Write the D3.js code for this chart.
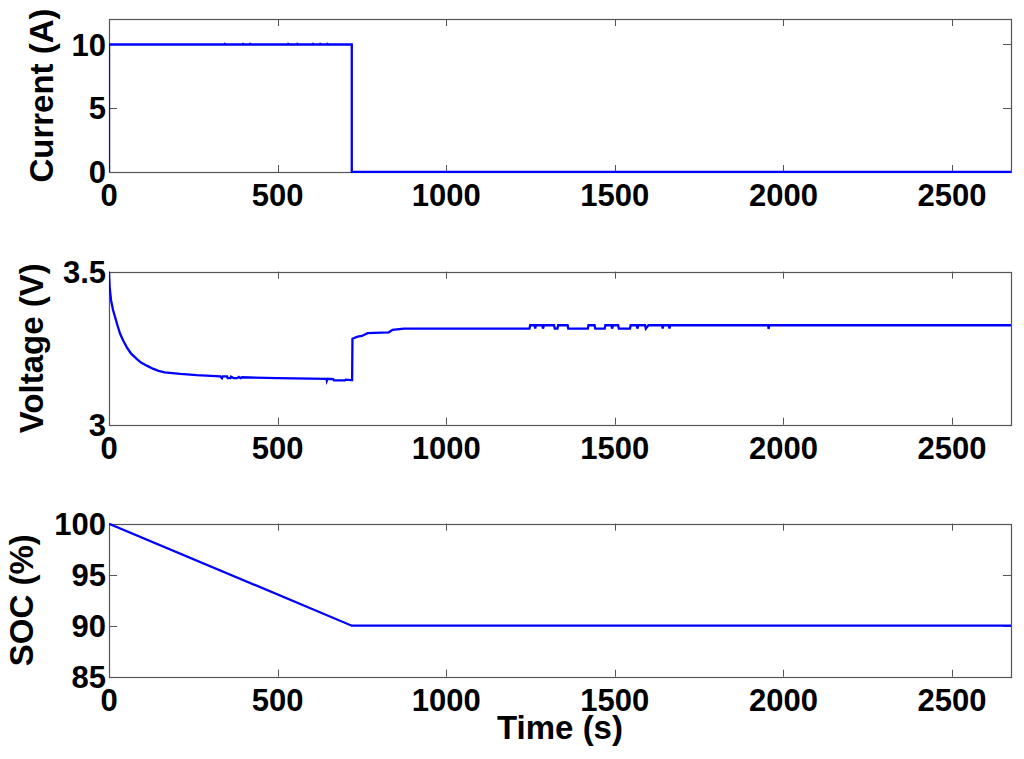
<!DOCTYPE html>
<html>
<head>
<meta charset="utf-8">
<script src="https://cdn.jsdelivr.net/npm/d3@7"></script>
<style>
  html, body { margin: 0; padding: 0; background: #fff; }
  svg text { font-family: "Liberation Sans", Arial, sans-serif; font-weight: bold; fill: #000; }
</style>
</head>
<body>
<script>
// time axis
var tMax = 2675;
var xTicks = [0, 500, 1000, 1500, 2000, 2500];

// current (A): [time, value]
var currentData = [
  [0, 0], [0, 10], [345, 10], [345, 10.03], [347, 10], [399, 10], [399, 10.03], [401, 10],
  [420, 10], [420, 10.03], [422, 10], [533, 10], [533, 10.03], [535, 10], [560, 10], [560, 10.03],
  [562, 10], [607, 10], [607, 10.03], [609, 10], [628, 10], [628, 10.03], [630, 10],
  [649, 10], [649, 10.03], [651, 10], [720, 10], [720, 0], [2675, 0]
];
var currentTicks = [0, 5, 10];

// voltage (V): [time, value]
var voltageData = [
  [0, 3.50], [2, 3.45], [6, 3.407], [12, 3.375], [18, 3.352], [25, 3.325], [33, 3.297],
  [42, 3.275], [53, 3.253], [65, 3.233], [82, 3.215], [95, 3.203], [112, 3.193],
  [130, 3.183], [147, 3.176], [165, 3.171], [211, 3.166], [260, 3.162], [330, 3.158],
  [335, 3.152], [337, 3.158], [350, 3.158], [352, 3.152], [360, 3.152], [362, 3.157],
  [370, 3.152], [380, 3.152], [385, 3.156], [390, 3.152], [395, 3.155], [500, 3.152],
  [645, 3.150], [646, 3.144], [648, 3.150], [665, 3.149], [667, 3.145], [700, 3.145],
  [702, 3.147], [718, 3.146], [721, 3.146], [722, 3.281], [737, 3.288], [750, 3.290],
  [767, 3.299], [830, 3.302], [841, 3.310], [875, 3.314], [1247, 3.314], [1249, 3.325],
  [1262, 3.325], [1264, 3.314], [1266, 3.325], [1285, 3.325], [1287, 3.314], [1290, 3.325],
  [1320, 3.325], [1322, 3.314], [1330, 3.314], [1332, 3.325], [1360, 3.325], [1362, 3.314],
  [1420, 3.314], [1422, 3.325], [1440, 3.325], [1442, 3.314], [1470, 3.314], [1472, 3.325],
  [1490, 3.325], [1492, 3.314], [1495, 3.325], [1510, 3.325], [1512, 3.314], [1545, 3.314],
  [1547, 3.325], [1565, 3.325], [1567, 3.314], [1570, 3.325], [1590, 3.325], [1592, 3.314],
  [1600, 3.325], [1640, 3.325], [1642, 3.314], [1644, 3.325], [1660, 3.325], [1662, 3.314],
  [1664, 3.325], [1955, 3.325], [1956, 3.313], [1958, 3.325], [2675, 3.325]
];
var voltageTicks = [3, 3.5];

// state of charge (%): [time, value]
var socData = [[0, 100], [720, 90], [2675, 90]];
var socTicks = [85, 90, 95, 100];

var panels = [
  { data: currentData, domain: [0, 12], ticks: currentTicks, label: "Current (A)", top: 19, labelX: 53 },
  { data: voltageData, domain: [3, 3.5], ticks: voltageTicks, label: "Voltage (V)", top: 271.7, labelX: 43 },
  { data: socData, domain: [85, 100], ticks: socTicks, label: "SOC (%)", top: 523.7, labelX: 33 }
];

var width = 1024, height = 759;
var left = 109, right = 1011, ph = 153;

var svg = d3.select("body").append("svg")
  .attr("width", width)
  .attr("height", height);

svg.append("rect").attr("width", width).attr("height", height).attr("fill", "#fff");

var x = d3.scaleLinear().domain([0, tMax]).range([left, right]);

panels.forEach(function(p, i) {
  var y = d3.scaleLinear().domain(p.domain).range([p.top + ph, p.top]);
  var g = svg.append("g");

  // clip for the trace
  svg.append("clipPath").attr("id", "clip" + i)
    .append("rect")
    .attr("x", left).attr("y", p.top - 1)
    .attr("width", right - left).attr("height", ph + 2);

  var line = d3.line()
    .x(function(d) { return x(d[0]); })
    .y(function(d) { return y(d[1]); });

  // ticks inside the box, on all four sides
  var tickLen = 7;
  g.selectAll(".xt").data(xTicks).enter().append("line")
    .attr("x1", function(d) { return Math.round(x(d)) + 0.5; })
    .attr("x2", function(d) { return Math.round(x(d)) + 0.5; })
    .attr("y1", p.top + ph).attr("y2", p.top + ph - tickLen)
    .attr("stroke", "#555");
  g.selectAll(".xtt").data(xTicks).enter().append("line")
    .attr("x1", function(d) { return Math.round(x(d)) + 0.5; })
    .attr("x2", function(d) { return Math.round(x(d)) + 0.5; })
    .attr("y1", p.top).attr("y2", p.top + tickLen)
    .attr("stroke", "#555");
  g.selectAll(".yt").data(p.ticks).enter().append("line")
    .attr("x1", left).attr("x2", left + 8)
    .attr("y1", function(d) { return Math.round(y(d)) + 0.5; })
    .attr("y2", function(d) { return Math.round(y(d)) + 0.5; })
    .attr("stroke", "#555");
  g.selectAll(".ytr").data(p.ticks).enter().append("line")
    .attr("x1", right).attr("x2", right - 8)
    .attr("y1", function(d) { return Math.round(y(d)) + 0.5; })
    .attr("y2", function(d) { return Math.round(y(d)) + 0.5; })
    .attr("stroke", "#555");

  // box
  g.append("rect")
    .attr("x", left + 0.5).attr("y", Math.round(p.top) + 0.5)
    .attr("width", right - left).attr("height", ph)
    .attr("fill", "none").attr("stroke", "#555").attr("stroke-width", 1.2);

  // trace
  g.append("path")
    .datum(p.data)
    .attr("clip-path", "url(#clip" + i + ")")
    .attr("fill", "none")
    .attr("stroke", "#0000ff")
    .attr("stroke-width", 2.3)
    .attr("d", line);

  // tick labels
  g.selectAll(".xl").data(xTicks).enter().append("text")
    .attr("x", function(d) { return x(d); })
    .attr("y", p.top + ph + 34)
    .attr("text-anchor", "middle")
    .attr("font-size", 31)
    .text(function(d) { return d; });
  g.selectAll(".yl").data(p.ticks).enter().append("text")
    .attr("x", left - 3)
    .attr("y", function(d) { return y(d) + 11; })
    .attr("text-anchor", "end")
    .attr("font-size", 31)
    .text(function(d) { return d; });

  // y label
  g.append("text")
    .attr("transform", "translate(" + p.labelX + "," + (p.top + ph / 2) + ") rotate(-90)")
    .attr("text-anchor", "middle")
    .attr("font-size", 33)
    .text(p.label);
});

svg.append("text")
  .attr("x", (left + right) / 2)
  .attr("y", 739)
  .attr("text-anchor", "middle")
  .attr("font-size", 33)
  .text("Time (s)");
</script>
</body>
</html>
